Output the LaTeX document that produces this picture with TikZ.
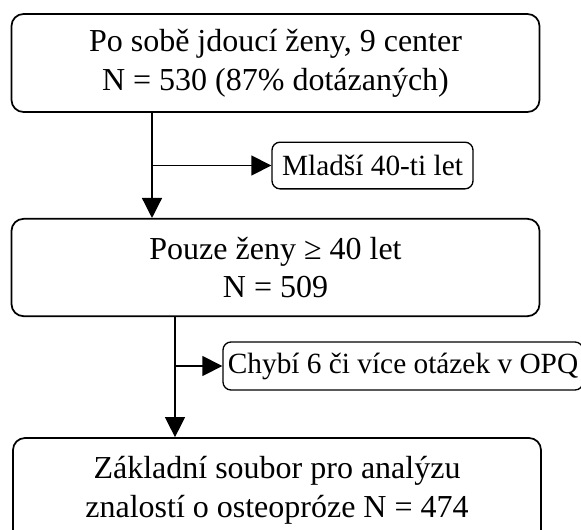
\documentclass[tikz,border=0pt]{standalone}
\usepackage{fontspec}
\setmainfont{Liberation Serif}
\usetikzlibrary{arrows.meta}
\begin{document}
\begin{tikzpicture}[x=.75pt,y=-.75pt,>={Triangle[length=15pt,width=15pt]},line width=1pt,
  bigbox/.style={draw,line width=1.3pt,rounded corners=9pt,align=center,minimum width=396pt,
    font=\fontsize{24}{29}\selectfont,inner sep=0pt},
  smallbox/.style={draw,line width=1pt,rounded corners=6pt,inner sep=0pt,
    font=\fontsize{22}{26}\selectfont}]
\useasboundingbox (0,0) rectangle (581,529);
\node[bigbox,minimum height=73.5pt] (zeny) at (275.5,63) {Po sobě jdoucí ženy, 9 center\\N = 530 (87\% dotázaných)};
\node[bigbox,minimum height=73pt] (starsi) at (275.5,267.5) {Pouze ženy ≥ 40 let\\N = 509};
\node[bigbox,minimum height=78pt] (soubor) at (277,490) {Základní soubor pro analýzu\\znalostí o osteopróze N = 474};
\node[smallbox,minimum width=150.75pt,minimum height=35pt] (mladsi) at (372.5,165.5) {Mladší 40-ti let};
\node[smallbox,minimum width=270pt,minimum height=36pt] (chybi) at (403,366) {Chybí 6 či více otázek v OPQ};
\coordinate (j1) at (152,165.5);
\coordinate (j2) at (175,366);
\draw[->] (zeny.south -| j1) -- (starsi.north -| j1);
\draw[->] (j1) -- (mladsi.west);
\draw[->] (starsi.south -| j2) -- (soubor.north -| j2);
\draw[->] (j2) -- (chybi.west);
\end{tikzpicture}
\end{document}
